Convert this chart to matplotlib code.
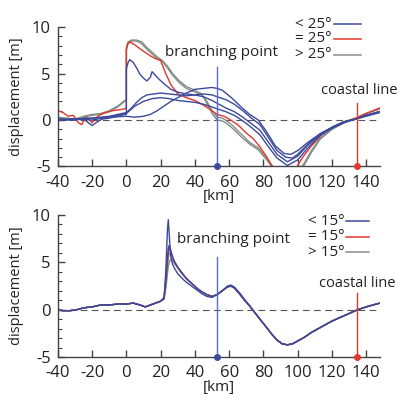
import matplotlib
matplotlib.use("Agg")
import matplotlib.pyplot as plt
from matplotlib.lines import Line2D
from matplotlib.ticker import MultipleLocator

plt.rcParams.update({"font.family": ["Open Sans", "DejaVu Sans"], "font.size": 10,
                     "axes.unicode_minus": False})

BLUE = "#3b4a9c"
RED = "#e5352b"
GRAY = "#8c8c8c"
GRAY2 = "#7e8f82"
TXT = "#222222"

# ---- top panel (dip angle 25 deg) ----
TOP_GRAY1_X = [-40, -35, -30, -25, -20, -15, -10, -5, -1, 0, 0, 1, 3, 6, 9, 12, 15, 18, 21, 24, 27, 31, 35, 40,
               44, 47, 50, 53, 56, 58, 62, 67, 72, 77, 82, 86, 90, 95, 100, 104, 108, 113, 120, 127, 134, 140, 148]
TOP_GRAY1_Y = [0.2, 0.1, 0.0, 0.3, 0.5, 0.6, 0.9, 1.4, 2.0, 2.1, 7.6, 8.2, 8.5, 8.5, 8.2, 7.6, 7.1, 6.6, 6.3, 5.6,
               4.8, 4.0, 3.4, 3.0, 2.7, 2.0, 1.0, 0.3, 0.2, 0.0, -0.6, -1.5, -2.4, -3.0, -4.1, -5.1, -5.8, -6.0,
               -5.6, -4.6, -3.3, -2.0, -1.0, -0.3, 0.2, 0.7, 1.2]
TOP_GRAY2_Y = [0.3, 0.2, 0.1, 0.4, 0.6, 0.7, 1.0, 1.5, 2.1, 2.2, 7.9, 8.4, 8.6, 8.6, 8.4, 7.8, 7.3, 6.8, 6.4, 5.8,
               5.0, 4.2, 3.6, 3.2, 2.8, 1.8, 0.7, 0.0, -0.1, -0.3, -0.9, -1.8, -2.6, -3.2, -4.3, -5.3, -6.2, -6.3,
               -5.9, -4.8, -3.5, -2.1, -1.0, -0.3, 0.2, 0.7, 1.2]
TOP_RED_X = [-40, -37, -34, -31, -28, -26, -24, -22, -20, -18, -15, -12, -8, -4, -1, 0, 0, 1, 2, 4, 7, 10, 14, 17,
             20, 23, 26, 30, 35, 40, 45, 50, 53, 57, 60, 65, 70, 74, 78, 82, 86, 90, 95, 99, 103, 108, 114, 120,
             127, 134, 140, 148]
TOP_RED_Y = [1.0, 0.8, 0.4, 0.5, -0.3, -0.5, 0.3, 0.1, -0.3, 0.2, 0.6, 0.8, 1.0, 1.1, 1.2, 1.3, 7.6, 8.3, 8.4, 8.2,
             7.8, 7.4, 6.9, 6.6, 6.4, 5.0, 3.8, 2.8, 2.4, 2.1, 1.6, 1.0, 0.6, 0.4, 0.1, -0.5, -1.4, -2.0, -2.9,
             -4.0, -5.3, -6.0, -6.2, -5.2, -4.0, -2.8, -1.6, -0.8, -0.2, 0.2, 0.7, 1.3]
TOP_BLUE_A_X = [-40, -35, -30, -25, -20, -17, -14, -10, -5, -1, 0, 0, 1, 2, 4, 6, 8, 10, 12, 14, 15, 17, 19, 22,
                26, 30, 35, 40, 45, 50, 53, 58, 63, 68, 73, 78, 83, 88, 94, 100, 106, 113, 120, 127, 134, 140, 148]
TOP_BLUE_A_Y = [0.0, 0.0, 0.0, 0.1, -0.6, -0.2, 0.1, 0.2, 0.4, 0.6, 0.6, 5.5, 6.2, 6.5, 6.2, 5.6, 4.9, 4.5, 4.2,
                4.6, 5.2, 4.8, 4.4, 3.9, 3.3, 3.0, 2.8, 2.7, 2.5, 2.1, 1.8, 1.3, 0.9, 0.3, -0.4, -1.1, -2.4, -3.7,
                -4.5, -3.9, -2.7, -1.6, -0.8, -0.2, 0.1, 0.5, 0.9]
TOP_BLUE_B_X = [-40, -30, -20, -10, -5, 0, 3, 6, 9, 12, 16, 20, 25, 30, 35, 40, 45, 50, 53, 58, 63, 68, 73, 78, 83,
                88, 93, 97, 100, 106, 113, 120, 127, 134, 140, 148]
TOP_BLUE_B_Y = [0.0, 0.1, 0.2, 0.4, 0.6, 0.8, 1.3, 1.9, 2.4, 2.7, 2.8, 2.9, 2.8, 2.7, 2.6, 2.7, 2.8, 2.7, 2.5, 2.2,
                1.7, 1.0, 0.2, -0.5, -1.9, -3.3, -4.0, -4.1, -3.7, -2.6, -1.5, -0.8, -0.2, 0.1, 0.5, 0.9]
TOP_BLUE_C_X = [-40, -30, -20, -10, 0, 5, 10, 14, 18, 22, 26, 30, 35, 40, 45, 50, 53, 56, 58, 62, 67, 72, 77, 82,
                87, 92, 96, 100, 106, 113, 120, 127, 134, 140, 148]
TOP_BLUE_C_Y = [0.0, 0.1, 0.2, 0.3, 0.4, 0.3, 0.4, 0.6, 1.0, 1.5, 2.0, 2.4, 2.9, 3.3, 3.4, 3.5, 3.4, 3.2, 2.9, 2.3,
                1.4, 0.6, 0.0, -1.3, -2.8, -3.6, -3.7, -3.3, -2.4, -1.5, -0.8, -0.2, 0.1, 0.5, 0.9]
TOP_BLUE_D_X = [-40, -30, -20, -10, 0, 5, 10, 15, 20, 25, 30, 35, 40, 45, 50, 53, 58, 63, 68, 73, 78, 83, 88, 94,
                100, 106, 113, 120, 127, 134, 140, 148]
TOP_BLUE_D_Y = [0.1, 0.1, 0.0, 0.3, 0.7, 1.5, 2.0, 2.3, 2.4, 2.3, 2.1, 2.0, 1.9, 1.7, 1.4, 1.2, 0.9, 0.5, -0.1,
                -0.8, -1.6, -2.9, -4.1, -4.9, -4.3, -3.0, -1.7, -0.9, -0.3, 0.1, 0.4, 0.8]

# ---- bottom panel (dip angle 15 deg) ----
BOT_X = [-40, -37, -33, -29, -25, -20, -15, -10, -5, 0, 4, 8, 11, 14, 17, 20, 22, 23, 24, 24.5, 25, 25.5, 26, 27,
         28, 30, 32, 35, 38, 41, 44, 47, 50, 53, 56, 59, 61, 63, 66, 69, 72, 75, 78, 82, 85, 88, 91, 94, 97, 100,
         104, 108, 112, 116, 120, 125, 130, 135, 140, 148]
BOT_BLUE1_Y = [0.0, -0.1, -0.1, 0.0, 0.2, 0.3, 0.5, 0.5, 0.6, 0.6, 0.7, 0.5, 0.3, 0.5, 0.7, 0.9, 1.3, 4.0, 8.5,
               9.5, 8.0, 6.5, 5.5, 4.8, 4.4, 3.8, 3.4, 2.9, 2.5, 2.1, 1.7, 1.4, 1.3, 1.6, 2.0, 2.5, 2.6, 2.4, 1.8,
               1.1, 0.4, -0.3, -1.0, -1.9, -2.6, -3.2, -3.6, -3.7, -3.6, -3.3, -2.9, -2.4, -2.0, -1.6, -1.2, -0.8,
               -0.4, 0.0, 0.3, 0.7]
BOT_BLUE2_Y = [0.0, -0.1, -0.1, 0.0, 0.2, 0.3, 0.5, 0.5, 0.6, 0.6, 0.7, 0.5, 0.3, 0.5, 0.7, 0.9, 1.2, 3.0, 5.5,
               6.5, 6.8, 6.6, 6.2, 5.6, 5.1, 4.5, 4.0, 3.3, 2.8, 2.3, 1.9, 1.6, 1.4, 1.6, 2.0, 2.4, 2.5, 2.3, 1.7,
               1.0, 0.4, -0.3, -1.0, -1.9, -2.6, -3.2, -3.6, -3.7, -3.6, -3.3, -2.9, -2.4, -2.0, -1.6, -1.2, -0.8,
               -0.4, 0.0, 0.3, 0.7]
BOT_RED_Y = [0.0, -0.1, -0.1, 0.0, 0.2, 0.3, 0.5, 0.5, 0.6, 0.6, 0.7, 0.5, 0.3, 0.5, 0.7, 0.9, 1.2, 2.8, 5.0, 6.0,
             6.5, 6.4, 6.1, 5.5, 5.1, 4.5, 4.0, 3.3, 2.8, 2.3, 1.9, 1.6, 1.4, 1.6, 2.0, 2.4, 2.5, 2.3, 1.7, 1.0,
             0.4, -0.3, -1.0, -1.9, -2.6, -3.2, -3.6, -3.7, -3.6, -3.3, -2.9, -2.4, -2.0, -1.6, -1.2, -0.8, -0.4,
             0.0, 0.3, 0.7]
BOT_GRAY1_Y = [0.0, -0.1, -0.1, 0.0, 0.2, 0.3, 0.5, 0.5, 0.6, 0.6, 0.7, 0.5, 0.3, 0.5, 0.7, 0.9, 1.2, 2.5, 4.5,
               5.5, 5.9, 6.0, 5.9, 5.4, 5.0, 4.4, 3.9, 3.3, 2.8, 2.3, 1.9, 1.6, 1.4, 1.6, 2.0, 2.4, 2.5, 2.3, 1.7,
               1.0, 0.4, -0.3, -1.0, -1.9, -2.6, -3.2, -3.6, -3.7, -3.6, -3.3, -2.9, -2.4, -2.0, -1.6, -1.2, -0.8,
               -0.4, 0.0, 0.3, 0.7]
BOT_GRAY2_Y = [0.0, -0.1, -0.1, 0.0, 0.2, 0.3, 0.5, 0.5, 0.6, 0.6, 0.7, 0.5, 0.3, 0.5, 0.7, 0.9, 1.1, 2.2, 3.8,
               4.6, 5.0, 5.2, 5.3, 5.2, 4.9, 4.4, 3.9, 3.3, 2.8, 2.3, 1.9, 1.6, 1.4, 1.6, 2.0, 2.4, 2.5, 2.3, 1.7,
               1.0, 0.4, -0.3, -1.0, -1.9, -2.6, -3.2, -3.6, -3.7, -3.6, -3.3, -2.9, -2.4, -2.0, -1.6, -1.2, -0.8,
               -0.4, 0.0, 0.3, 0.7]

BRANCH_X = 53
COAST_X = 134.5
TOP_LABELS = ["< 25°", "= 25°", "> 25°"]
BOT_LABELS = ["< 15°", "= 15°", "> 15°"]
LEG_COLORS = [BLUE, RED, GRAY]


def style_axis(ax):
    ax.set_xlim(-40, 148)
    ax.set_ylim(-5, 10)
    ax.set_xticks(range(-40, 141, 20))
    ax.set_yticks([-5, 0, 5, 10])
    ax.yaxis.set_minor_locator(MultipleLocator(1))
    ax.tick_params(direction="in", length=5, width=1, colors="#444444", labelcolor=TXT, labelsize=12)
    ax.tick_params(axis="x", pad=6)
    ax.tick_params(axis="y", pad=5)
    ax.tick_params(which="minor", direction="in", length=3, width=0.8, colors="#444444")
    for s in ("top", "right"):
        ax.spines[s].set_visible(False)
    for s in ("left", "bottom"):
        ax.spines[s].set_color("#444444")
        ax.spines[s].set_linewidth(1.0)
    ax.axhline(0, color="#555555", lw=0.8, ls=(0, (6, 4)), zorder=1)
    ax.set_xlabel("[km]", fontsize=11, color=TXT, labelpad=-1)
    ax.set_ylabel("displacement [m]", fontsize=10.5, color=TXT)
    ax.yaxis.set_label_coords(-0.105, 0.5)


def legend(fig, labels, rows_px, text_px, line_px):
    W, H = 399, 404
    for lab, py, c in zip(labels, rows_px, LEG_COLORS):
        fig.text(text_px / W, 1 - py / H, lab, ha="right", va="center", fontsize=11, color=TXT)
        fig.add_artist(Line2D([line_px[0] / W, line_px[1] / W], [1 - py / H, 1 - py / H], color=c, lw=1.1))


fig = plt.figure(figsize=(3.99, 4.04), dpi=100)
ax1 = fig.add_axes([0.145, 0.588, 0.807, 0.345])
ax2 = fig.add_axes([0.145, 0.116, 0.807, 0.352])

# top
lw = 1.0
ax1.plot(TOP_GRAY1_X, TOP_GRAY1_Y, color=GRAY, lw=lw)
ax1.plot(TOP_GRAY1_X, TOP_GRAY2_Y, color=GRAY2, lw=lw)
ax1.plot(TOP_RED_X, TOP_RED_Y, color=RED, lw=lw)
ax1.plot(TOP_BLUE_A_X, TOP_BLUE_A_Y, color=BLUE, lw=lw)
ax1.plot(TOP_BLUE_B_X, TOP_BLUE_B_Y, color=BLUE, lw=lw)
ax1.plot(TOP_BLUE_C_X, TOP_BLUE_C_Y, color=BLUE, lw=lw)
ax1.plot(TOP_BLUE_D_X, TOP_BLUE_D_Y, color=BLUE, lw=lw)
style_axis(ax1)
ax1.plot([BRANCH_X, BRANCH_X], [-5, 5.7], color="#5a6ccf", lw=1.0)
ax1.plot([COAST_X, COAST_X], [-5, 1.8], color="#e03a30", lw=1.0)
ax1.plot([BRANCH_X], [-5], "o", color=BLUE, ms=4, clip_on=False, zorder=5)
ax1.plot([COAST_X], [-5], "o", color="#e03a30", ms=4, clip_on=False, zorder=5)
ax1.text(55.3, 7.3, "branching point", ha="center", va="center", fontsize=11, color=TXT)
ax1.text(113.5, 3.2, "coastal line", ha="left", va="center", fontsize=10.5, color=TXT, clip_on=False)

# bottom
ax2.plot(BOT_X, BOT_GRAY2_Y, color=GRAY2, lw=lw)
ax2.plot(BOT_X, BOT_GRAY1_Y, color=GRAY, lw=lw)
ax2.plot(BOT_X, BOT_RED_Y, color=RED, lw=lw)
ax2.plot(BOT_X, BOT_BLUE2_Y, color=BLUE, lw=lw)
ax2.plot(BOT_X, BOT_BLUE1_Y, color=BLUE, lw=lw)
style_axis(ax2)
ax2.plot([BRANCH_X, BRANCH_X], [-5, 5.6], color="#5a6ccf", lw=1.0)
ax2.plot([COAST_X, COAST_X], [-5, 1.8], color="#e03a30", lw=1.0)
ax2.plot([BRANCH_X], [-5], "o", color=BLUE, ms=4, clip_on=False, zorder=5)
ax2.plot([COAST_X], [-5], "o", color="#e03a30", ms=4, clip_on=False, zorder=5)
ax2.text(62.4, 7.4, "branching point", ha="center", va="center", fontsize=11, color=TXT)
ax2.text(112.4, 2.8, "coastal line", ha="left", va="center", fontsize=10.5, color=TXT, clip_on=False)

legend(fig, TOP_LABELS, [24, 39, 55], 332, (334, 361))
legend(fig, BOT_LABELS, [221, 237, 252], 345, (346, 369))

fig.savefig("out.png", dpi=100)
